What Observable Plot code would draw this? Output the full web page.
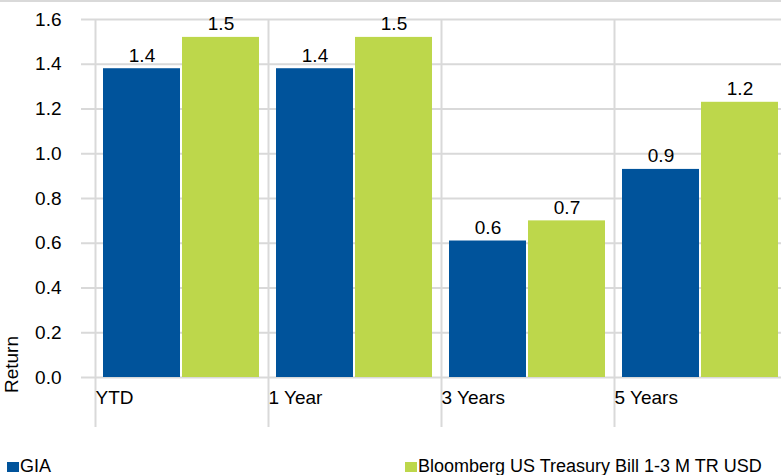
<!DOCTYPE html>
<html><head><meta charset="utf-8">
<script src="https://cdn.jsdelivr.net/npm/d3@7"></script>
<script src="https://cdn.jsdelivr.net/npm/@observablehq/plot@0.6"></script>
<style>
body{margin:0;background:#fff;font-family:"Liberation Sans",Arial,sans-serif;}
#wrap{position:relative;width:781px;height:475px;overflow:hidden;border-top:2px solid #d9d9d9;box-sizing:border-box;}
.leg{position:absolute;top:456px;font-size:18px;line-height:16px;height:17px;color:#000;white-space:nowrap;}
.sw{display:inline-block;width:12px;height:10px;margin-right:1px;vertical-align:0px;}
</style></head><body>
<div id="wrap"><div id="chart"></div>
<div class="leg" id="leg0" style="left:7px"></div>
<div class="leg" id="leg1" style="left:405px"></div>
</div>
<script>
const categories = ["YTD", "1 Year", "3 Years", "5 Years"];
const seriesNames = ["GIA", "Bloomberg US Treasury Bill 1-3 M TR USD"];
const giaValues = [1.38, 1.38, 0.61, 0.93];
const benchValues = [1.52, 1.52, 0.70, 1.23];
const yTicks = [0, 0.2, 0.4, 0.6, 0.8, 1.0, 1.2, 1.4, 1.6];
const colors = ["#00539b", "#bdd74b"];

const data = categories.map((c, i) => ({category: c, gia: giaValues[i], bench: benchValues[i]}));
const fmt = d3.format(".1f");
const grid = "#d9d9d9";

const chart = Plot.plot({
  width: 781,
  height: 440,
  marginLeft: 81,
  marginRight: 0,
  marginTop: 17,
  marginBottom: 15,
  style: {fontFamily: "'Liberation Sans', Arial, sans-serif", fontSize: "19px", color: "#000", background: "#fff"},
  x: {type: "band", domain: categories, range: [95, 787], padding: 0, axis: null},
  y: {domain: [0, 1.6], range: [375, 17], axis: null},
  marks: [
    Plot.ruleY(yTicks, {y: d => d, stroke: grid, strokeWidth: 2, strokeOpacity: 1}),
    Plot.ruleX(categories, {x: d => d, dx: -86.5, stroke: grid, strokeWidth: 2, strokeOpacity: 1}),
    Plot.text(yTicks, {y: d => d, text: d => fmt(d), frameAnchor: "left", dx: -20, textAnchor: "end", fontSize: 19, fill: "#000"}),
    Plot.barY(data, {x: "category", y: "gia", fill: colors[0], insetLeft: 8, insetRight: 88}),
    Plot.barY(data, {x: "category", y: "bench", fill: colors[1], insetLeft: 87, insetRight: 9}),
    Plot.text(data, {x: "category", y: "gia", text: d => fmt(d.gia), dx: -40, dy: -7, lineAnchor: "bottom", fontSize: 19, fill: "#000"}),
    Plot.text(data, {x: "category", y: "bench", text: d => fmt(d.bench), dx: 39, dy: -7, lineAnchor: "bottom", fontSize: 19, fill: "#000"}),
    Plot.text(categories, {x: d => d, text: d => d, frameAnchor: "bottom", dx: -86.5, dy: -24, textAnchor: "start", fontSize: 19, fill: "#000"}),
    Plot.text(["Return"], {text: d => d, frameAnchor: "bottom-left", dx: -64, dy: -63, rotate: -90, textAnchor: "middle", fontSize: 19, fill: "#000"})
  ]
});
document.getElementById("chart").appendChild(chart);

seriesNames.forEach((name, i) => {
  const el = document.getElementById("leg" + i);
  const sw = document.createElement("span");
  sw.className = "sw";
  sw.style.background = colors[i];
  el.appendChild(sw);
  el.appendChild(document.createTextNode(name));
});
</script>
</body></html>
